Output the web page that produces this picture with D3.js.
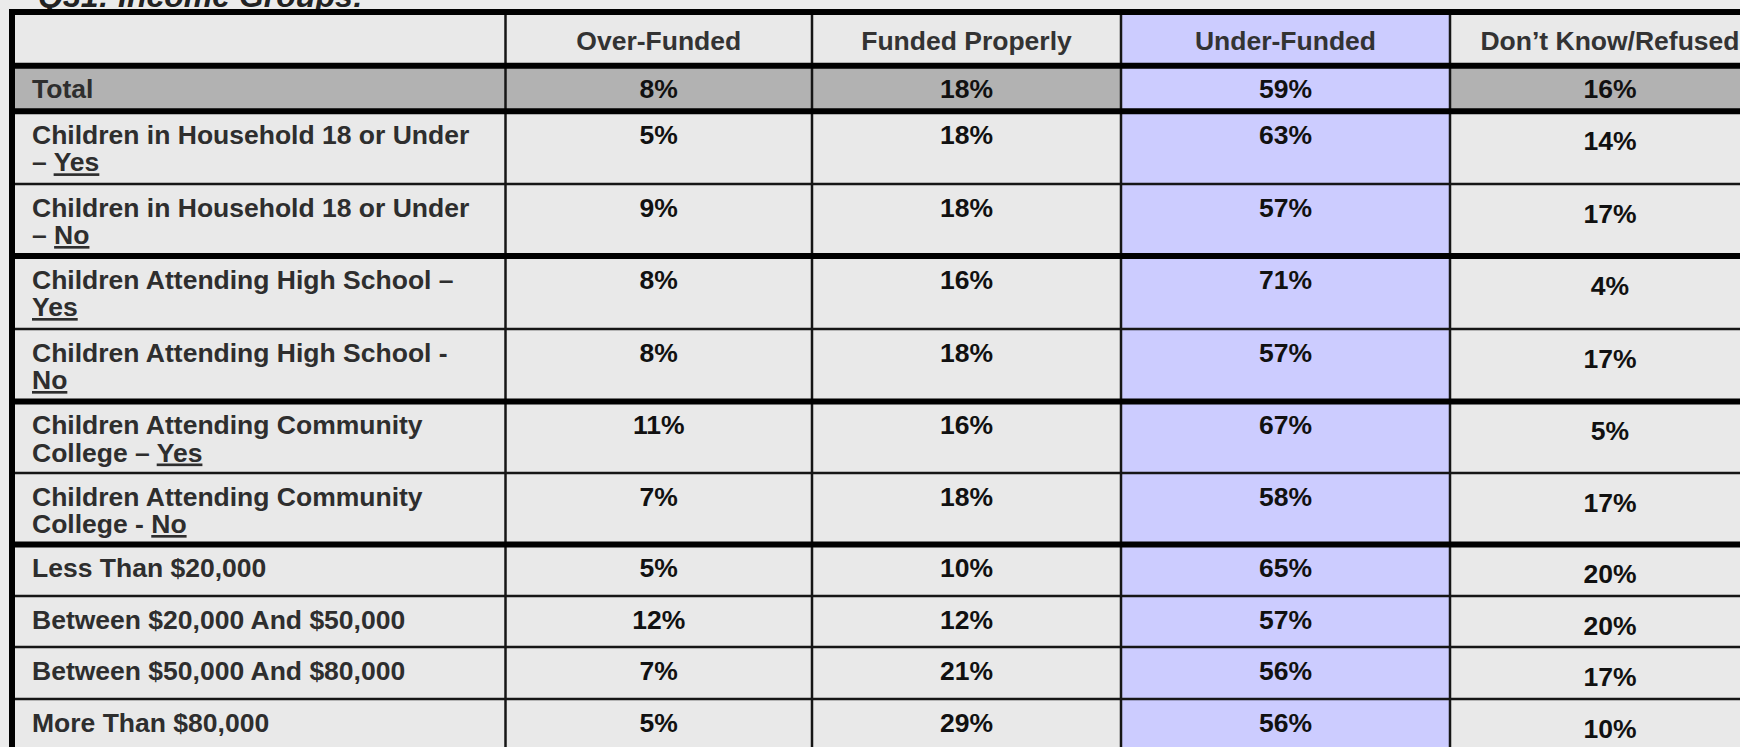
<!DOCTYPE html>
<html>
<head>
<meta charset="utf-8">
<script src="https://cdn.jsdelivr.net/npm/d3@7"></script>
<style>
  html, body { margin: 0; padding: 0; background: #ebebeb; }
  svg { display: block; }
  text { font-family: "Liberation Sans", Arial, sans-serif; font-weight: bold; }
</style>
</head>
<body>
<svg id="chart" width="1740" height="747"></svg>
<script>
// ---------- data ----------
const title = "Q31: Income Groups:";
const columns = ["Over-Funded", "Funded Properly", "Under-Funded", "Don\u2019t Know/Refused"];
const rowLine1 = [
  "Total",
  "Children in Household 18 or Under",
  "Children in Household 18 or Under",
  "Children Attending High School \u2013",
  "Children Attending High School -",
  "Children Attending Community",
  "Children Attending Community",
  "Less Than $20,000",
  "Between $20,000 And $50,000",
  "Between $50,000 And $80,000",
  "More Than $80,000"
];
const rowLine2Lead  = ["", "\u2013 ", "\u2013 ", "", "", "College \u2013 ", "College - ", "", "", "", ""];
const rowLine2Under = ["", "Yes", "No", "Yes", "No", "Yes", "No", "", "", "", ""];
const overFunded     = [8, 5, 9, 8, 8, 11, 7, 5, 12, 7, 5];
const fundedProperly = [18, 18, 18, 16, 18, 16, 18, 10, 12, 21, 29];
const underFunded    = [59, 63, 57, 71, 57, 67, 58, 65, 57, 56, 56];
const dontKnow       = [16, 14, 17, 4, 17, 5, 17, 20, 20, 17, 10];
const seriesValues = [overFunded, fundedProperly, underFunded, dontKnow];

// ---------- layout ----------
const svg = d3.select("#chart");
const W = 1740, H = 747;
const colKeys = ["label", ...columns];
const colBounds = [12, 505.5, 812, 1121, 1450, 1770];
const rowKeys = ["header", ...d3.range(rowLine1.length)];
const rowBounds = [12, 65.7, 111.3, 184, 256, 329, 401.5, 473, 544.5, 596, 647, 699, 752];
const thickAfter = new Set(["header", 0, 2, 4, 6]);

const xL = d3.scaleOrdinal().domain(colKeys).range(colBounds.slice(0, -1));
const xR = d3.scaleOrdinal().domain(colKeys).range(colBounds.slice(1));
const yT = d3.scaleOrdinal().domain(rowKeys).range(rowBounds.slice(0, -1));
const yB = d3.scaleOrdinal().domain(rowKeys).range(rowBounds.slice(1));
const xC = k => (xL(k) + xR(k)) / 2;

const FS = 26.5;
const C_BG = "#ebebeb", C_CELL = "#e9e9e9", C_TOTAL = "#b2b2b2", C_UNDER = "#ccccff";

svg.append("rect").attr("width", W).attr("height", H).attr("fill", C_BG);

// title (mostly clipped at top, as in the source)
svg.append("text")
  .attr("x", 38).attr("y", 7)
  .attr("font-size", 32).attr("font-style", "italic")
  .attr("fill", "#222")
  .text(title);

// ---------- cells ----------
const cells = [];
rowKeys.forEach(r => colKeys.forEach(c => cells.push({r, c})));
svg.append("g").selectAll("rect").data(cells).join("rect")
  .attr("x", d => xL(d.c)).attr("y", d => yT(d.r))
  .attr("width", d => xR(d.c) - xL(d.c)).attr("height", d => yB(d.r) - yT(d.r))
  .attr("fill", d => {
    if (d.c === "Under-Funded") return C_UNDER;
    if (d.r === 0) return C_TOTAL;
    return C_CELL;
  });

// ---------- grid lines ----------
const gl = svg.append("g");
gl.selectAll("line.v").data(colKeys.slice(1)).join("line")
  .attr("x1", d => xL(d)).attr("x2", d => xL(d))
  .attr("y1", rowBounds[0]).attr("y2", H + 10)
  .attr("stroke", "#161616").attr("stroke-width", 2.5);
const hKeys = rowKeys.slice(0, -1);
gl.selectAll("line.h").data(hKeys).join("line")
  .attr("x1", colBounds[0]).attr("x2", W + 10)
  .attr("y1", d => yB(d)).attr("y2", d => yB(d))
  .attr("stroke", d => thickAfter.has(d) ? "#000" : "#161616")
  .attr("stroke-width", d => thickAfter.has(d) ? 6 : 2.5);
gl.append("line").attr("x1", 9).attr("x2", W + 10).attr("y1", 12).attr("y2", 12)
  .attr("stroke", "#000").attr("stroke-width", 6);
gl.append("line").attr("x1", 12).attr("x2", 12).attr("y1", 9).attr("y2", H + 10)
  .attr("stroke", "#000").attr("stroke-width", 6);

// ---------- header text ----------
svg.append("g").selectAll("text").data(columns).join("text")
  .attr("x", d => xC(d)).attr("y", yT("header") + 37.5)
  .attr("text-anchor", "middle").attr("font-size", FS).attr("fill", "#333")
  .text(d => d);

// ---------- row labels ----------
const lab = svg.append("g").selectAll("text").data(d3.range(rowLine1.length)).join("text")
  .attr("x", 32).attr("y", i => yT(i) + 32.5)
  .attr("font-size", FS).attr("fill", "#2e2e2e");
lab.append("tspan").text(i => rowLine1[i]);
lab.filter(i => rowLine2Under[i] !== "").each(function(i) {
  const t = d3.select(this);
  if (rowLine2Lead[i] !== "") {
    t.append("tspan").attr("x", 32).attr("dy", 27.5).text(rowLine2Lead[i]);
    t.append("tspan").style("text-decoration", "underline").text(rowLine2Under[i]);
  } else {
    t.append("tspan").attr("x", 32).attr("dy", 27.5)
      .style("text-decoration", "underline").text(rowLine2Under[i]);
  }
});

// ---------- values ----------
const vals = [];
seriesValues.forEach((arr, j) => arr.forEach((v, i) => vals.push({c: columns[j], i, v})));
svg.append("g").selectAll("text").data(vals).join("text")
  .attr("x", d => xC(d.c))
  .attr("y", d => yT(d.i) + 32.5 + (d.c === columns[3] && d.i > 0 ? 6 : 0))
  .attr("text-anchor", "middle").attr("font-size", FS).attr("fill", "#111")
  .text(d => d.v + "%");
</script>
</body>
</html>
